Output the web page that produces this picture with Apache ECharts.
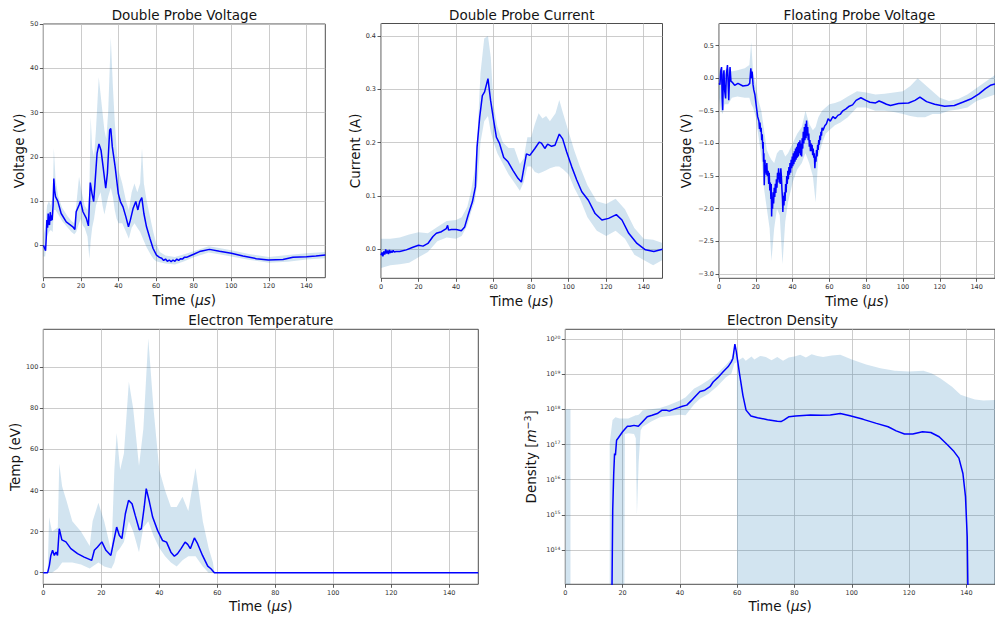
<!DOCTYPE html>
<html>
<head>
<meta charset="utf-8">
<script src="https://cdn.jsdelivr.net/npm/echarts@6/dist/echarts.min.js"></script>
<style>
  html, body { margin: 0; padding: 0; background: #fff; }
  #chart { width: 995px; height: 617px; }
</style>
</head>
<body>
<div id="chart"></div>
<script>
// ---------- tick values ----------
const timeTicks = [0, 20, 40, 60, 80, 100, 120, 140];
const dpvTicks = [0, 10, 20, 30, 40, 50];
const dpcTicks = [0.0, 0.1, 0.2, 0.3, 0.4];
const fpvTicks = [-3.0, -2.5, -2.0, -1.5, -1.0, -0.5, 0.0, 0.5];
const tempTicks = [0, 20, 40, 60, 80, 100];
const densTicks = [1e14, 1e15, 1e16, 1e17, 1e18, 1e19, 1e20];

// ---------- Double Probe Voltage ----------
const dpvTime = [0, 0.4, 1.2, 1.6, 1.9, 2.3, 2.6, 3.0, 3.3, 3.7, 4.0, 4.4, 4.7, 5.2, 5.6, 6.0, 6.5, 7.7, 9.5, 12.2,
  15.7, 16.8, 17.5, 19, 19.8, 21.1, 22.9, 24, 25, 25.9, 26.8, 27.5, 28.6, 29.6, 30.7, 31.8, 33.2, 34.1, 35.3, 35.9,
  36.7, 38.2, 39.9, 41, 42.4, 43.9, 45.3, 46.3, 47.8, 49.2, 50.3, 51.3, 52.4, 53.5, 54.9, 56.7, 58.4, 60.2, 61.8, 63,
  64, 65, 66, 67, 68, 69, 70, 71, 72, 73, 74, 75, 76.2, 77.8, 80, 83.1, 85, 88.4, 93.7, 100,
  106.2, 113.3, 119.7, 127.5, 132.8, 140, 145, 150];
const dpvMean = [0.0, -0.3, -1.2, 2, 5.7, 4, 7.2, 5, 4.6, 7.5, 5.5, 6.8, 5.7, 9, 15.1, 12.5, 11, 10, 7.2, 5.3,
  4.2, 3.6, 7.6, 9.1, 10, 7.6, 6.1, 4.4, 14.2, 11.7, 9.9, 14, 20.8, 22.9, 21.5, 17.8, 12.9, 16.3, 26, 26.4,
  22.3, 17.8, 11.7, 9.9, 8.7, 6.5, 4.2, 5.7, 8.4, 9.9, 8.0, 9.9, 10.8, 7.2, 4.2, 1.6, -0.7, -2.2, -2.7, -2.9,
  -3.4, -3.1, -3.6, -3.3, -3.7, -3.3, -3.6, -3.1, -3.4, -3.0, -3.1, -2.7, -2.7, -2.4, -2.0, -1.4, -1.2, -0.9, -1.35, -1.8,
  -2.4, -3.0, -3.3, -3.2, -2.7, -2.55, -2.4, -2.2];
const dpvBandTime = [0, 1, 2, 3, 4, 5, 5.6, 6.5, 8, 10, 13, 15, 16.5, 17.5, 19, 20, 21, 22, 23.5, 24.5,
  25.2, 26, 27, 28, 29.5, 30.5, 31.5, 32.5, 33.5, 34.5, 35.9, 37, 38, 39, 40, 42, 44, 45.5, 47, 48.5,
  50, 51.5, 52.5, 53.5, 55, 57, 58.5, 60, 62, 65, 70, 75, 80, 88, 95, 100, 110, 120, 130, 140, 150];
const dpvUpper = [2, 4, 9, 10, 9, 11, 22, 15, 11, 8.5, 6.5, 5.5, 5, 9, 15.5, 13, 11, 9, 8, 12,
  29, 22, 20, 26, 38, 34, 30, 26, 24, 30, 47, 36, 28, 22, 17, 14, 10, 8, 12, 14,
  12, 14, 22, 14, 10, 6, 3, 0.5, -1.5, -2.3, -2.6, -2.0, -1.3, -0.2, -0.7, -1.1, -2.0, -2.6, -2.2, -1.8, -1.5];
const dpvLower = [-2.5, -2.5, 2, 3, 3.5, 3, 8, 8, 7, 5.5, 4, 3, 2.5, 3, 5, 6, 4.5, 4, 2, -3,
  1, 4, 6, 9, 11, 12, 9, 7, 9, 11, 13, 11, 8, 6, 5, 5, 3, 1.5, 4, 5,
  4, 3, 2, 1, -0.5, -2.0, -3.0, -3.6, -3.8, -4.1, -4.3, -3.6, -2.7, -1.6, -2.1, -2.5, -3.3, -3.9, -3.7, -3.2, -2.9];

// ---------- Double Probe Current ----------
const dpcTime = [0, 0.5, 1, 1.5, 2, 2.5, 3, 3.5, 4, 4.5, 5, 5.5, 6, 6.5, 7, 8, 10, 13.5, 17, 20,
  22.4, 25, 27.7, 29.5, 32.2, 34.8, 35.5, 36, 37.5, 40.1, 42.8, 44.6, 46.4, 48.7, 50.3, 51.2, 52.6, 54, 55.2, 57,
  58.4, 60, 61.5, 63.2, 65.4, 67.7, 70.3, 73, 74.8, 76, 77.5, 79.3, 82, 84.3, 85.5, 87.3, 88.8, 90.9, 92.7, 95,
  96.8, 98.9, 101.6, 104.3, 107, 110.5, 114.1, 117.7, 121.3, 125.4, 128.4, 132, 136.4, 140.9, 145.4, 150];
const dpcMean = [-0.011, -0.006, -0.013, -0.004, -0.010, 0.000, -0.008, -0.002, -0.009, -0.001, -0.007, -0.003, -0.006, -0.002, -0.005, -0.004, -0.004, -0.001, 0.004, 0.0075,
  0.006, 0.011, 0.024, 0.03, 0.033, 0.039, 0.045, 0.036, 0.037, 0.037, 0.035, 0.042, 0.064, 0.089, 0.117, 0.192, 0.248, 0.288, 0.295, 0.32,
  0.279, 0.242, 0.21, 0.198, 0.172, 0.164, 0.148, 0.133, 0.126, 0.15, 0.179, 0.176, 0.189, 0.201, 0.199, 0.189, 0.197, 0.193, 0.195, 0.216,
  0.207, 0.183, 0.155, 0.13, 0.108, 0.092, 0.067, 0.055, 0.058, 0.065, 0.055, 0.03, 0.011, -0.001, -0.004, 0.0];
const dpcBandTime = [0, 5, 10, 15, 20, 25, 30, 35, 40, 43, 46, 48, 50, 51.5, 53, 55, 57, 58.5, 60, 62,
  65, 68, 71, 74, 76, 78, 80, 82, 84, 86, 88, 90, 93, 95, 97, 100, 103, 106, 110, 115,
  120, 125, 130, 135, 140, 145, 150];
const dpcUpper = [0.02, 0.02, 0.022, 0.028, 0.032, 0.03, 0.042, 0.053, 0.055, 0.06, 0.08, 0.11, 0.15, 0.22, 0.33, 0.395, 0.4, 0.36, 0.27, 0.23,
  0.2, 0.19, 0.19, 0.16, 0.17, 0.21, 0.21, 0.235, 0.255, 0.245, 0.25, 0.24, 0.255, 0.28, 0.255, 0.22, 0.185, 0.155, 0.12, 0.09,
  0.085, 0.095, 0.075, 0.04, 0.02, 0.018, 0.012];
const dpcLower = [-0.035, -0.03, -0.028, -0.025, -0.015, -0.005, 0.015, 0.022, 0.02, 0.025, 0.045, 0.07, 0.09, 0.13, 0.2, 0.24, 0.25, 0.22, 0.2, 0.18,
  0.16, 0.14, 0.125, 0.11, 0.125, 0.155, 0.155, 0.145, 0.142, 0.145, 0.148, 0.152, 0.155, 0.155, 0.15, 0.14, 0.115, 0.095, 0.06, 0.035,
  0.025, 0.035, 0.02, -0.01, -0.02, -0.03, -0.02];

// ---------- Floating Probe Voltage ----------
const fpvTime = [0, 0.5, 1, 1.4, 1.7, 2, 2.4, 2.7, 3.1, 3.6, 4, 4.6, 5, 5.3, 5.7, 6, 6.5, 7.1, 8.5, 10.3,
  13, 15.7, 16.7, 17.3, 17.7, 18, 18.5, 18.9, 19.5, 20.1, 21, 21.7,
  22.0, 22.3, 22.6, 22.9, 23.2, 23.5, 23.8, 24.0, 24.2, 24.4,
  24.6, 24.8, 25.0, 25.2, 25.4, 25.7, 26.0, 26.3, 26.7, 27.0,
  27.3, 27.6, 27.9, 28.2, 28.4, 28.6, 28.8, 29.1, 29.4, 29.7,
  30.0, 30.3, 30.6, 30.9, 31.2, 31.5, 31.8, 32.1, 32.4, 32.7,
  33.0, 33.3, 33.6, 33.9, 34.2, 34.5, 34.7, 35.0, 35.3, 35.6,
  35.9, 36.2, 36.5, 36.8, 37.1, 37.4, 37.7, 38.0, 38.3, 38.6,
  38.9, 39.2, 39.5, 39.8, 40.1, 40.4, 40.7, 41.0, 41.3, 41.6,
  41.9, 42.2, 42.5, 42.8, 43.1, 43.4, 43.7, 44.0, 44.3, 44.6,
  44.9, 45.2, 45.5, 45.8, 46.1, 46.4, 46.7, 47.0, 47.3, 47.6,
  47.9, 48.2, 48.5, 48.8, 49.1, 49.4, 49.7, 50.0, 50.3, 50.6,
  50.9, 51.2, 51.5, 51.8, 52.1, 52.4, 52.7, 53.0, 53.3, 53.6,
  53.9, 54.2, 54.5, 54.8, 55.1, 55.4, 55.7, 56.0, 56.5,
  57.5, 58.4, 59.3, 60.5, 61.9, 63.2, 64.6, 66, 67.3, 69, 70.8, 72.6, 74.5, 77.1, 79.8, 82, 85.1, 87, 88.7, 91,
  93.2, 97.6, 103, 106.5, 109.2, 112.8, 117.2, 122.6, 127.9, 132.4, 136.8, 141.3, 144.8, 147.5, 150];
const fpvMean = [-0.08, -0.1, 0.12, 0.17, -0.3, -0.49, 0.05, 0.12, -0.2, -0.31, 0.05, 0.2, -0.1, -0.34, 0.0, 0.17, -0.05, -0.06, -0.11, -0.08,
  -0.12, -0.11, -0.08, 0.15, 0.0, 0.1, -0.1, -0.18, -0.25, -0.39, -0.59, -0.66,
  -0.78, -0.68, -0.82, -0.76, -0.95, -0.86, -1.08, -0.98, -1.28, -1.15,
  -1.64, -1.35, -1.25, -1.45, -1.33, -1.48, -1.3, -1.5, -1.42, -1.62,
  -1.45, -1.72, -1.6, -1.85, -1.62, -2.12, -1.85, -2.0, -1.75, -1.92,
  -1.68, -1.82, -1.62, -1.76, -1.55, -1.68, -1.45, -1.55, -1.38, -1.6,
  -1.45, -1.62, -1.38, -1.5, -1.7, -1.85, -2.05, -1.8, -1.95, -1.75,
  -1.88, -1.62, -1.75, -1.5, -1.62, -1.42, -1.55, -1.36, -1.48, -1.3,
  -1.45, -1.25, -1.38, -1.2, -1.35, -1.15, -1.32, -1.12, -1.28, -1.08,
  -1.25, -1.05, -1.22, -1.0, -1.2, -0.98, -1.15, -0.95, -1.18, -1.0,
  -1.2, -0.92, -1.08, -0.82, -1.0, -0.75, -0.95, -0.7, -0.92, -0.65,
  -0.88, -0.75, -0.95, -0.85, -1.05, -0.95, -1.12, -1.0, -1.12, -1.02,
  -1.18, -1.08, -1.22, -1.15, -1.38, -1.2, -1.28, -1.1, -1.2, -1.02,
  -1.1, -0.95, -1.02, -0.88, -0.95, -0.82, -0.88, -0.76, -0.8,
  -0.73, -0.7, -0.62, -0.66, -0.59, -0.62, -0.57, -0.55, -0.5, -0.47, -0.43, -0.41, -0.34, -0.30, -0.34, -0.37, -0.38, -0.35, -0.37, -0.4,
  -0.42, -0.39, -0.38, -0.34, -0.29, -0.36, -0.40, -0.43, -0.42, -0.37, -0.32, -0.24, -0.16, -0.11, -0.09];
const fpvBandTime = [0, 1, 2, 3, 5, 7, 10, 14, 16.5, 17.5, 18.5, 20, 21.5, 23, 24.5, 26, 27.5, 28.5, 30, 31.5,
  33, 34.5, 36, 37.5, 40, 42.5, 45, 47, 49, 51, 52.5, 54, 56, 58, 60, 63, 66, 70, 75, 80,
  85, 90, 95, 100, 104, 108, 112, 116, 120, 125, 130, 135, 140, 145, 150];
const fpvUpper = [0.1, 0.15, 0.1, 0.12, 0.15, 0.1, 0.12, 0.15, 0.2, 0.55, 0.1, -0.1, -0.35, -0.5, -0.8, -1.1, -1.2, -1.25, -1.3, -1.15,
  -1.1, -1.1, -1.2, -1.15, -1.0, -0.85, -0.75, -0.5, -0.7, -0.8, -0.75, -0.6, -0.5, -0.45, -0.4, -0.38, -0.35, -0.28, -0.2, -0.22,
  -0.25, -0.24, -0.22, -0.2, -0.12, 0.0, -0.1, -0.2, -0.3, -0.35, -0.32, -0.25, -0.15, -0.05, 0.05];
const fpvLower = [-0.3, -0.5, -0.55, -0.4, -0.4, -0.3, -0.28, -0.3, -0.3, -0.4, -0.45, -0.6, -0.9, -1.2, -1.7, -2.0, -2.3, -2.8, -2.3, -2.0,
  -2.1, -2.85, -2.2, -1.9, -1.6, -1.4, -1.3, -1.15, -1.3, -1.5, -1.9, -1.2, -1.0, -0.85, -0.8, -0.72, -0.68, -0.6, -0.45, -0.45,
  -0.5, -0.5, -0.52, -0.55, -0.58, -0.6, -0.6, -0.55, -0.55, -0.5, -0.48, -0.45, -0.35, -0.3, -0.25];

// ---------- Electron Temperature ----------
const tempTime = [0, 1.5, 2.1, 2.6, 3.2, 3.8, 4.4, 4.9, 5.5, 5.9, 6.4, 7.8, 9.5, 11.8, 14.1, 16.7, 17.6, 18.7, 20.2, 21.6,
  23.3, 24.1, 25.3, 26.2, 27.1, 28.3, 29.4, 30.6, 31.7, 33.1, 33.8, 34.8, 35.5, 36.6, 37.7, 39.4, 41.1, 42.5, 44, 45.2,
  46.3, 47.5, 48.9, 49.8, 50.7, 52.1, 53.2, 54.9, 56.7, 57.8, 59, 150];
const tempMean = [0, 0, 3.6, 8.4, 10.9, 8.4, 10, 8.4, 21.4, 19, 16, 15, 11.7, 9.3, 7.6, 6, 10.9, 12.5, 15, 10.9,
  8.4, 14.1, 22.2, 18.2, 16.6, 28.7, 35.2, 33.6, 27.9, 20.9, 21.4, 32, 40.9, 34.4, 27.1, 20.6, 15.7, 14.9, 10, 8,
  9.3, 11.7, 14.9, 13.8, 11.7, 16.9, 14.1, 8.4, 3.2, 1.9, 0, 0];
const tempBandTime = [0, 1.5, 2, 3, 5, 5.5, 6.5, 8, 10, 13, 16, 17, 19, 21, 23.5, 24.5, 25.3, 26.5, 27.8, 29.5,
  31, 33, 34.5, 36.2, 38, 40, 42, 44, 46, 48, 50, 52.5, 55, 57, 58.5, 59, 150];
const tempUpper = [0, 0, 27, 20, 22, 53, 42, 35, 25, 20, 13, 25, 34, 25, 10, 50, 68, 50, 58, 93,
  80, 52, 70, 114, 80, 50, 40, 32, 32, 37, 30, 51, 25, 12, 5, 0, 0];
const tempLower = [0, 0, 0, 0, 2, 3, 5, 5, 5, 4, 2, 3, 5, 3, 2, 5, 10, 12, 15, 25,
  20, 10, 22, 25, 18, 12, 8, 5, 3, 6, 8, 8, 3, 0, 0, 0, 0];

// ---------- Electron Density ----------
const densTime = [16.2, 16.55, 16.9, 17.2, 17.5, 17.9, 18.6, 20, 20.9, 21.7, 22.6, 24, 25.5, 26.9, 28.6, 30.3, 32.1, 33.8, 35.2, 36.3,
  37.8, 39.5, 40.9, 42.4, 43.9, 45.5, 47, 48.7, 50.5, 51.6, 53.3, 55.1, 56.8, 57.9, 58.5, 59.2, 59.7, 60.8, 62, 63.1,
  64.8, 67.1, 70.6, 74, 75.3, 76.4, 78.1, 80.4, 85.6, 89.1, 92.5, 96, 99.4, 104, 108.6, 112.7, 115.5, 118.4, 121.3, 124.7,
  127.6, 130.5, 133.4, 135.7, 137.4, 138.8, 139.7, 140.3, 140.7];
const densMean = [1e12, 1.35e15, 1.48e16, 5.5e16, 5.0e16, 1.32e17, 1.58e17, 2.3e17, 2.8e17, 3.3e17, 3.3e17, 3.5e17, 3.3e17, 4.4e17, 6.2e17, 6.8e17, 7.6e17, 9.5e17, 9.5e17, 8.9e17,
  1.0e18, 1.12e18, 1.23e18, 1.32e18, 1.74e18, 2.4e18, 3.2e18, 3.5e18, 4.4e18, 6.0e18, 8.1e18, 1.17e19, 1.62e19, 2.2e19, 2.8e19, 7.2e19, 4.4e19, 1.05e19, 2.5e18, 9.5e17,
  6.5e17, 5.8e17, 5.1e17, 4.6e17, 4.5e17, 5.0e17, 6.2e17, 6.5e17, 6.9e17, 6.8e17, 6.9e17, 7.6e17, 6.6e17, 5.2e17, 4.0e17, 3.2e17, 2.45e17, 2.0e17, 2.0e17, 2.3e17,
  2.2e17, 1.66e17, 9.8e16, 6.3e16, 4.1e16, 1.5e16, 3.3e15, 2.4e14, 1e12];
const densBandTime = [0, 1.8, 1.9, 15.5, 16.5, 17.5, 19, 20.5, 20.8, 22, 24, 24.6, 25, 25.6, 26.3, 27, 30, 33, 36, 40,
  42, 45, 47, 50, 53, 56, 58, 59, 59.9, 60, 60.5, 62, 63, 65, 66, 68, 70, 72, 74, 76,
  78, 80, 82, 84, 86, 88, 90, 93, 96, 100, 105, 110, 115, 120, 125, 128, 131, 135, 138, 140,
  143, 146, 150];
const densUpper = [1e18, 1e18, null, 1.1e17, 5e17, 6e17, 5.5e17, 5.5e17, 5.5e17, 5.5e17, 6.5e17, 6.8e17, 6.8e17, 7e17, 8e17, 9.5e17, 1.0e18, 1.1e18, 1.3e18, 1.8e18,
  2.2e18, 3.9e18, 4.8e18, 6.8e18, 1.05e19, 1.8e19, 2.8e19, 4.9e19, 3.5e19, 2.5e19, 2.5e19, 3.0e19, 2.4e19, 3.2e19, 2.6e19, 3.3e19, 3.1e19, 2.5e19, 3.1e19, 2.4e19,
  3.0e19, 3.2e19, 3.6e19, 3.0e19, 3.7e19, 3.3e19, 3.1e19, 3.4e19, 3.6e19, 2.6e19, 1.9e19, 1.48e19, 1.25e19, 1.2e19, 1.25e19, 1.05e19, 7.5e18, 4.4e18, 2.6e18, 2.3e18,
  1.9e18, 1.8e18, 1.85e18];
const densLower = [1e10, 1e10, null, 1e10, 1e10, 1e10, 1e10, 1e10, 2.0e17, 2.1e17, 2.0e17, 1.5e17, 1e15, 3e16, 2.5e17, 3.2e17, 4.5e17, 6e17, 6.5e17, 7e17,
  6.8e17, 1.4e18, 2.0e18, 2.8e18, 4.5e18, 8e18, 1.05e19, 2.0e19, 2.2e19, 1e10, 1e10, 1e10, 1e10, 1e10, 1e10, 1e10, 1e10, 1e10, 1e10, 1e10,
  1e10, 1e10, 1e10, 1e10, 1e10, 1e10, 1e10, 1e10, 1e10, 1e10, 1e10, 1e10, 1e10, 1e10, 1e10, 1e10, 1e10, 1e10, 1e10, 1e10,
  1e10, 1e10, 1e10];

// ---------- styling ----------
const FONT = 'DejaVu Sans';
const TXT = '#141414';
const LINE = '#0000ff';
const BAND = 'rgba(31,119,180,0.2)';
const GRIDLINE = { color: '#bfbfbf', width: 0.8 };

const panels = [
  { title: 'Double Probe Voltage', grid: { left: 43.3, top: 24, width: 282, height: 253.7 },
    yName: 'Voltage (V)', yGap: 17, yMin: -7.3, yMax: 50, yTicks: dpvTicks, fmt: v => String(v),
    time: dpvTime, mean: dpvMean, bandTime: dpvBandTime, upper: dpvUpper, lower: dpvLower, xGap: 15.5 },
  { title: 'Double Probe Current', grid: { left: 381, top: 23.5, width: 281.5, height: 254.8 },
    yName: 'Current (A)', yGap: 19.5, yMin: -0.0543, yMax: 0.4232, yTicks: dpcTicks, fmt: v => v.toFixed(1),
    time: dpcTime, mean: dpcMean, bandTime: dpcBandTime, upper: dpcUpper, lower: dpcLower, xGap: 15.5 },
  { title: 'Floating Probe Voltage', grid: { left: 719, top: 23.5, width: 280.7, height: 254.8 },
    yName: 'Voltage (V)', yGap: 26, yMin: -3.066, yMax: 0.837, yTicks: fpvTicks,
    fmt: v => (Math.abs(v) < 1e-9 ? '0.0' : v.toFixed(1).replace('-', '\u2212')),
    time: fpvTime, mean: fpvMean, bandTime: fpvBandTime, upper: fpvUpper, lower: fpvLower, xGap: 15.5 },
  { title: 'Electron Temperature', grid: { left: 43.3, top: 329.3, width: 435, height: 255 },
    yName: 'Temp (eV)', yGap: 21, yMin: -5.65, yMax: 118.5, yTicks: tempTicks, fmt: v => String(v),
    time: tempTime, mean: tempMean, bandTime: tempBandTime, upper: tempUpper, lower: tempLower, xGap: 15 },
  { title: 'Electron Density', grid: { left: 565.3, top: 329.3, width: 434.3, height: 255 },
    yName: 'Density [{i|m}{sup|\u22123}]', yGap: 26.5, yMin: 1.06e13, yMax: 1.89e20, yTicks: densTicks, log: true,
    fmt: v => '10{sup|' + Math.round(Math.log10(v)) + '}',
    time: densTime, mean: densMean, bandTime: densBandTime, upper: densUpper, lower: densLower, xGap: 15 }
];

// split a band into runs of defined points: [[t, lower, upper], ...]
function bandRuns(ts, lo, hi) {
  const runs = [];
  let cur = [];
  ts.forEach((t, k) => {
    if (lo[k] == null || hi[k] == null) {
      if (cur.length) runs.push(cur);
      cur = [];
    } else {
      cur.push([t, lo[k], hi[k]]);
    }
  });
  if (cur.length) runs.push(cur);
  return runs;
}

const option = {
  animation: false,
  backgroundColor: '#ffffff',
  title: [], grid: [], xAxis: [], yAxis: [], series: []
};

panels.forEach((p, i) => {
  const g = p.grid;
  option.title.push({
    text: p.title, left: g.left + g.width / 2, top: g.top - 16, textAlign: 'center', padding: 0,
    textStyle: { fontFamily: FONT, fontSize: 13.5, fontWeight: 'normal', color: TXT }
  });
  option.grid.push(Object.assign({ show: true, borderColor: '#3a3a3a', borderWidth: 0.9, backgroundColor: 'transparent' }, g));

  option.xAxis.push({
    gridIndex: i, type: 'value', min: 0, max: 150,
    name: 'Time ({i|\u03bcs})', nameLocation: 'middle', nameGap: p.xGap,
    nameTextStyle: { fontFamily: FONT, fontSize: 13.5, color: TXT,
      rich: { i: { fontFamily: FONT, fontSize: 13.5, fontStyle: 'italic', color: TXT } } },
    axisLine: { show: false, onZero: false },
    axisTick: { show: true, length: 3.5, lineStyle: { color: '#333', width: 0.8 }, customValues: timeTicks },
    axisLabel: { customValues: timeTicks, fontFamily: FONT, fontSize: 6.5, color: '#333', margin: 5 },
    splitLine: { show: true, lineStyle: GRIDLINE }
  });

  option.yAxis.push({
    gridIndex: i, type: p.log ? 'log' : 'value', logBase: 10, min: p.yMin, max: p.yMax,
    name: p.yName, nameLocation: 'middle', nameGap: p.yGap,
    nameTextStyle: { fontFamily: FONT, fontSize: 13.5, color: TXT,
      rich: {
        i: { fontFamily: FONT, fontSize: 13.5, fontStyle: 'italic', color: TXT },
        sup: { fontFamily: FONT, fontSize: 9.5, color: TXT, verticalAlign: 'bottom', padding: [0, 0, 6, 0] }
      } },
    axisLine: { show: false, onZero: false },
    axisTick: { show: true, length: 3.5, lineStyle: { color: '#333', width: 0.8 }, customValues: p.yTicks },
    axisLabel: { customValues: p.yTicks, fontFamily: FONT, fontSize: 6.5, color: '#333', margin: 5,
      formatter: p.fmt,
      rich: { sup: { fontFamily: FONT, fontSize: 4.5, color: '#333', verticalAlign: 'bottom', padding: [0, 0, 4, 0] } } },
    splitLine: { show: true, lineStyle: GRIDLINE }
  });

  // shaded spread between lower and upper edges, one polygon per run
  const runs = bandRuns(p.bandTime, p.lower, p.upper);
  option.series.push({
    type: 'custom', xAxisIndex: i, yAxisIndex: i, silent: true, clip: true, z: 1,
    data: runs.map(r => [r[0][0], r[0][2]]),
    renderItem: (params, api) => {
      const run = runs[params.dataIndex];
      const pts = run.map(([t, lo, hi]) => api.coord([t, hi]));
      for (let k = run.length - 1; k >= 0; k--) pts.push(api.coord([run[k][0], run[k][1]]));
      const cs = params.coordSys;
      return {
        type: 'group',
        clipPath: { type: 'rect', shape: { x: cs.x, y: cs.y, width: cs.width, height: cs.height } },
        children: [{ type: 'polygon', shape: { points: pts }, style: { fill: BAND, stroke: null } }]
      };
    }
  });
  option.series.push({
    type: 'line', xAxisIndex: i, yAxisIndex: i,
    data: p.time.map((t, k) => [t, p.mean[k]]), symbol: 'none', silent: true,
    lineStyle: { color: LINE, width: 1.5 }, z: 3
  });
});

const chart = echarts.init(document.getElementById('chart'), null, { renderer: 'svg', width: 995, height: 617 });
chart.setOption(option);
</script>
</body>
</html>
